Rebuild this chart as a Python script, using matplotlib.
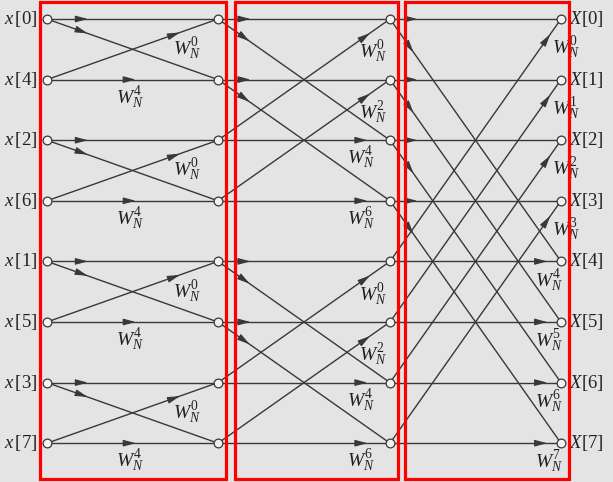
import numpy as np
import matplotlib.pyplot as plt
from matplotlib.patches import Rectangle

# --- Data: 8-point radix-2 DIT FFT flow graph ---
inputs = [0, 4, 2, 6, 1, 5, 3, 7]          # bit-reversed input order
outputs = [0, 1, 2, 3, 4, 5, 6, 7]
spans = [1, 2, 4]                          # butterfly span per stage
# twiddle exponents: upper label (on rising diagonal), lower label (under horizontal)
diag_exp = [[0, 0, 0, 0], [0, 2, 0, 2], [0, 1, 2, 3]]
horiz_exp = [[4, 4, 4, 4], [4, 6, 4, 6], [4, 5, 6, 7]]

# --- Layout (pixels) ---
W, H = 613, 482
stage_x = [47, 218, 390, 561]
row_y0, row_dy = 19, 60.6
# fractions along each branch where the arrowhead sits: top-horiz, diag-down, bottom-horiz, diag-up
arrow_pos = [(0.21, 0.21, 0.49, 0.75), (0.16, 0.16, 0.84, 0.86), (0.13, 0.12, 0.89, 0.92)]
# label offsets: diag label (dx from stage end, dy from top row), horiz label (dx from stage end, dy from bottom row)
lab_off = [((-31, 30), (-88, 18)), ((-17, 33), (-29, 18)), ((5, 29), (-12, 19))]
boxes = [(40, 226), (235, 398), (405, 569)]

ink = '#383838'
bg = '#e4e4e4'

plt.rcParams['mathtext.fontset'] = 'custom'
plt.rcParams['mathtext.rm'] = 'Liberation Serif'
plt.rcParams['mathtext.it'] = 'Liberation Serif:italic'
plt.rcParams['font.family'] = 'Liberation Serif'

fig = plt.figure(figsize=(W / 100, H / 100), dpi=100, facecolor=bg)
ax = fig.add_axes([0, 0, 1, 1])
ax.set_xlim(0, W)
ax.set_ylim(H, 0)
ax.axis('off')
ax.set_facecolor(bg)


def ry(r):
    return row_y0 + r * row_dy


def arrow(x0, y0, x1, y1, f):
    # small filled arrowhead placed at fraction f along the branch
    px, py = x0 + f * (x1 - x0), y0 + f * (y1 - y0)
    d = np.hypot(x1 - x0, y1 - y0)
    ux, uy = (x1 - x0) / d, (y1 - y0) / d
    ax.annotate('', xy=(px + 5 * ux, py + 5 * uy), xytext=(px - 5 * ux, py - 5 * uy),
                arrowprops=dict(arrowstyle='-|>,head_length=0.75,head_width=0.2',
                                color=ink, lw=0.8, shrinkA=0, shrinkB=0), zorder=4)


def branch(x0, y0, x1, y1, f):
    ax.plot([x0, x1], [y0, y1], color=ink, lw=1.0, zorder=2)
    arrow(x0, y0, x1, y1, f)


for s, h in enumerate(spans):
    xa, xb = stage_x[s], stage_x[s + 1]
    ft, fd, fb, fu = arrow_pos[s]
    (ddx, ddy), (hdx, hdy) = lab_off[s]
    k = 0
    for g in range(0, 8, 2 * h):
        for i in range(g, g + h):
            j = i + h
            branch(xa, ry(i), xb, ry(i), ft)
            branch(xa, ry(i), xb, ry(j), fd)
            branch(xa, ry(j), xb, ry(j), fb)
            branch(xa, ry(j), xb, ry(i), fu)
            ax.text(xb + ddx, ry(i) + ddy, r'$W_N^{%d}$' % diag_exp[s][k % 4],
                    fontsize=14, ha='center', va='center', color='#222222', zorder=5)
            ax.text(xb + hdx, ry(j) + hdy, r'$W_N^{%d}$' % horiz_exp[s][k % 4],
                    fontsize=14, ha='center', va='center', color='#222222', zorder=5)
            k += 1

# nodes
for x in stage_x:
    ax.plot([x] * 8, [ry(r) for r in range(8)], 'o', ms=6.3, mfc='#f2f2f2',
            mec=ink, mew=0.9, zorder=6)

# input / output labels
for r in range(8):
    ax.text(37, ry(r), r'$x\,[%d]$' % inputs[r], fontsize=13.5, ha='right',
            va='center', color='#222222')
    ax.text(569, ry(r), r'$X[%d]$' % outputs[r], fontsize=13.5, ha='left',
            va='center', color='#222222')

# red stage boxes
for x0, x1 in boxes:
    ax.add_patch(Rectangle((x0, 2), x1 - x0, 477, fill=False, ec='#ff0000',
                           lw=2.3, zorder=7))

fig.savefig('out.png', dpi=100, facecolor=bg)
